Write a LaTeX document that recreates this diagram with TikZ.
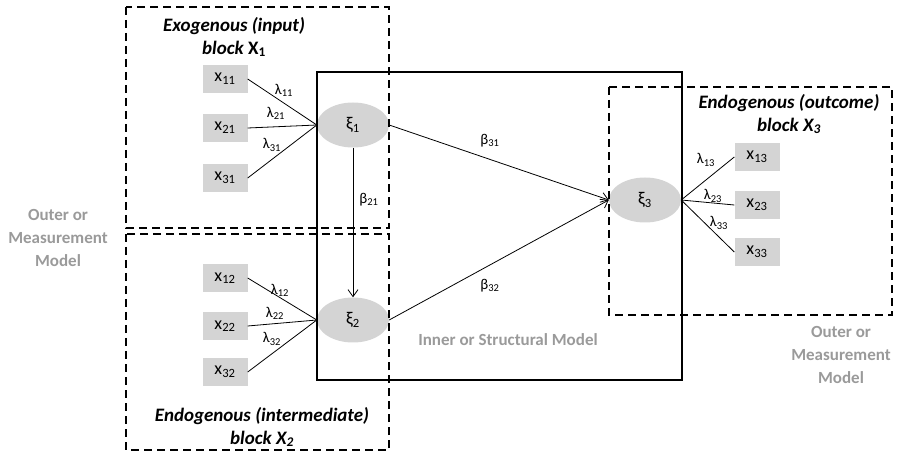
\documentclass[tikz,border=0pt]{standalone}
\usepackage{fontspec}
\setmainfont{Carlito}
\usetikzlibrary{arrows.meta,shapes.geometric}
\definecolor{boxgray}{HTML}{D4D4D4}
\definecolor{txtgray}{HTML}{9A9A9A}
\begin{document}
\begin{tikzpicture}[x=1pt,y=-1pt,
  obs/.style={fill=boxgray, minimum width=45pt, minimum height=28pt, inner sep=0pt, font=\fontsize{18}{20}\selectfont},
  lat/.style={ellipse, fill=boxgray, minimum width=72pt, minimum height=45pt, inner sep=0pt, font=\fontsize{18}{20}\selectfont},
  coef/.style={inner sep=0pt, font=\fontsize{15}{17}\selectfont},
  ttl/.style={inner sep=0pt, align=center, font=\fontsize{19}{23}\selectfont\bfseries\itshape},
  gtxt/.style={inner sep=0pt, align=center, text=txtgray, font=\fontsize{17}{23}\selectfont\bfseries},
  blockframe/.style={dashed, line width=1.8pt, dash pattern=on 8pt off 5pt},
  innerframe/.style={line width=2.4pt},
  load/.style={line width=0.8pt},
  path/.style={line width=0.8pt, -{Straight Barb[length=7pt,width=10pt]}}]
\useasboundingbox (0,0) rectangle (897,454);
% observed indicators
\node[obs] (x11) at (225,79) {x\textsubscript{11}};
\node[obs] (x21) at (225,128) {x\textsubscript{21}};
\node[obs] (x31) at (225,178) {x\textsubscript{31}};
\node[obs] (x12) at (225,278) {x\textsubscript{12}};
\node[obs] (x22) at (225,326) {x\textsubscript{22}};
\node[obs] (x32) at (225,372) {x\textsubscript{32}};
\node[obs] (x13) at (757,157) {x\textsubscript{13}};
\node[obs] (x23) at (757,205) {x\textsubscript{23}};
\node[obs] (x33) at (757,252) {x\textsubscript{33}};
% latent variables
\node[lat] (xi1) at (353,125) {ξ\textsubscript{1}};
\node[lat] (xi2) at (353,320) {ξ\textsubscript{2}};
\node[lat] (xi3) at (645,200) {ξ\textsubscript{3}};
% loadings
\draw[load] (x11.east) -- (xi1.west);
\draw[load] (x21.east) -- (xi1.west);
\draw[load] (x31.east) -- (xi1.west);
\draw[load] (x12.east) -- (xi2.west);
\draw[load] (x22.east) -- (xi2.west);
\draw[load] (x32.east) -- (xi2.west);
\draw[load] (xi3.east) -- (x13.west);
\draw[load] (xi3.east) -- (x23.west);
\draw[load] (xi3.east) -- (x33.west);
% structural paths
\draw[path] (xi1.south) -- (xi2.north);
\draw[path] (xi1.east) -- (xi3.west);
\draw[path] (xi2.east) -- (xi3.west);
% coefficient labels
\node[coef] (l11) at (284,90) {λ\textsubscript{11}};
\node[coef] (l21) at (276,113) {λ\textsubscript{21}};
\node[coef] (l31) at (272,145) {λ\textsubscript{31}};
\node[coef] (l12) at (280,290) {λ\textsubscript{12}};
\node[coef] (l22) at (275,313) {λ\textsubscript{22}};
\node[coef] (l32) at (272,339) {λ\textsubscript{32}};
\node[coef] (l13) at (706,160) {λ\textsubscript{13}};
\node[coef] (l23) at (713,196) {λ\textsubscript{23}};
\node[coef] (l33) at (719,223) {λ\textsubscript{33}};
\node[coef] (b21) at (369,200) {β\textsubscript{21}};
\node[coef] (b31) at (490,141) {β\textsubscript{31}};
\node[coef] (b32) at (490,286) {β\textsubscript{32}};
% frames
\draw[blockframe] (126,7) rectangle (389,228);
\draw[blockframe] (126,234) rectangle (389,450);
\draw[blockframe] (609,87) rectangle (892,315);
\draw[innerframe] (317,72) rectangle (682,380);
% titles
\node[ttl] (t1) at (234,37) {Exogenous (input)\\block {\upshape X\textsubscript{1}}};
\node[ttl] (t2) at (262,427) {Endogenous (intermediate)\\block X\textsubscript{2}};
\node[ttl] (t3) at (789,114) {Endogenous (outcome)\\block X\textsubscript{3}};
% grey labels
\node[gtxt] (om1) at (58,238) {Outer or\\Measurement\\Model};
\node[gtxt] (om2) at (841,355) {Outer or\\Measurement\\Model};
\node[gtxt] (im) at (508,340) {Inner or Structural Model};
\end{tikzpicture}
\end{document}
